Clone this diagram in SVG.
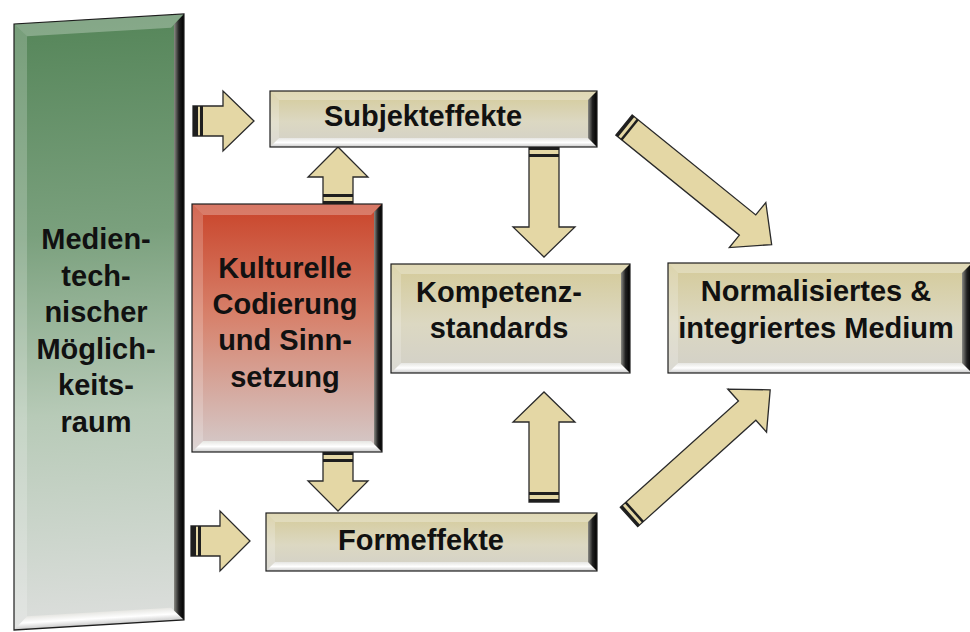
<svg xmlns="http://www.w3.org/2000/svg" width="970" height="632" viewBox="0 0 970 632">
<defs>
<style>
.frame{fill:none;stroke:#1e1e1e;stroke-width:1.2}
.bt{fill:#fff;opacity:.28}
.bl{fill:#fff;opacity:.2}
.bb{fill:url(#gBot)}
.br{fill:url(#gRight)}
.arrow{fill:#e4d7a5;stroke:#2a2a2a;stroke-width:1.3;stroke-linejoin:miter}
.band{fill:#1e1e1e}
text{font-family:"Liberation Sans",Arial,sans-serif;font-weight:bold;font-size:29px;fill:#111;text-anchor:middle}
</style>
<linearGradient id="gBeige" x1="0" y1="0" x2="0" y2="1">
<stop offset="0" stop-color="#d4ca98"/>
<stop offset="0.55" stop-color="#dcd8c2"/>
<stop offset="1" stop-color="#d2d0c8"/>
</linearGradient>
<linearGradient id="gGreen" x1="0" y1="0" x2="0" y2="1">
<stop offset="0" stop-color="#56865a"/>
<stop offset="0.35" stop-color="#7aa07d"/>
<stop offset="0.65" stop-color="#b7cab7"/>
<stop offset="1" stop-color="#dcdedc"/>
</linearGradient>
<linearGradient id="gRed" x1="0" y1="0" x2="0" y2="1">
<stop offset="0" stop-color="#c9442a"/>
<stop offset="0.45" stop-color="#d7816b"/>
<stop offset="1" stop-color="#d4cbcb"/>
</linearGradient>
<linearGradient id="gBot" x1="0" y1="0" x2="0" y2="1">
<stop offset="0" stop-color="#e6e6e2"/>
<stop offset="0.5" stop-color="#ffffff"/>
<stop offset="1" stop-color="#c8c8c8"/>
</linearGradient>
<linearGradient id="gRight" x1="0" y1="0" x2="1" y2="0">
<stop offset="0" stop-color="#8a8a84"/>
<stop offset="0.5" stop-color="#202020"/>
<stop offset="1" stop-color="#000"/>
</linearGradient>
</defs>

<g id="connectors">
<g id="a-medien-subjekt" transform="translate(193,121)">
<path class="arrow" d="M0,-15 H30 V-30 L61,0 L30,30 V15 H0 Z"/>
<rect class="band" x="0" y="-15" width="5" height="30"/><rect class="band" x="7" y="-15" width="3" height="30"/>
</g>
<g id="a-medien-form" transform="translate(191,541)">
<path class="arrow" d="M0,-15 H29 V-30 L59,0 L29,30 V15 H0 Z"/>
<rect class="band" x="0" y="-15" width="5" height="30"/><rect class="band" x="7" y="-15" width="3" height="30"/>
</g>
<g id="a-kultur-subjekt" transform="translate(338,204) rotate(-90)">
<path class="arrow" d="M0,-15 H27 V-30 L57,0 L27,30 V15 H0 Z"/>
<rect class="band" x="0" y="-15" width="3" height="30"/><rect class="band" x="7" y="-15" width="3" height="30"/>
</g>
<g id="a-kultur-form" transform="translate(338,452) rotate(90)">
<path class="arrow" d="M0,-15 H29 V-30 L59,0 L29,30 V15 H0 Z"/>
<rect class="band" x="0" y="-15" width="3" height="30"/><rect class="band" x="7" y="-15" width="3" height="30"/>
</g>
<g id="a-subjekt-kompetenz" transform="translate(544,147) rotate(90)">
<path class="arrow" d="M0,-15 H80 V-31 L110,0 L80,31 V15 H0 Z"/>
<rect class="band" x="0" y="-15" width="3" height="30"/><rect class="band" x="7" y="-15" width="3" height="30"/>
</g>
<g id="a-form-kompetenz" transform="translate(544,502) rotate(-90)">
<path class="arrow" d="M0,-15 H80 V-31 L110,0 L80,31 V15 H0 Z"/>
<rect class="band" x="0" y="-15" width="3" height="30"/><rect class="band" x="7" y="-15" width="3" height="30"/>
</g>
<g id="a-subjekt-medium" transform="translate(624,125) rotate(39)">
<path class="arrow" d="M0,-13 H159 V-29 L190,0 L159,29 V13 H0 Z"/>
<rect class="band" x="0" y="-13" width="3" height="26" fill="#444"/><rect class="band" x="6" y="-13" width="2.5" height="26"/>
</g>
<g id="a-form-medium" transform="translate(629,517) rotate(-42)">
<path class="arrow" d="M0,-13 H159 V-29 L190,0 L159,29 V13 H0 Z"/>
<rect class="band" x="0" y="-13" width="3" height="26"/><rect class="band" x="6" y="-13" width="2.5" height="26"/>
</g>
</g>

<g id="medien">
<g transform="translate(14,24) skewY(-3.4)">
<rect x="0" y="0" width="170" height="606" fill="url(#gGreen)"/>
<polygon class="bt" points="0,0 170,0 157,13 13,13"/>
<polygon class="bl" points="0,0 13,13 13,593 0,606"/>
<polygon class="bb" points="0,606 13,593 157,593 170,606"/>
<polygon class="br" points="170,0 170,606 160,596 160,10"/>
<rect class="frame" x="0" y="0" width="170" height="606"/>
</g>
<text x="96" y="249">Medien-</text>
<text x="96" y="286">tech-</text>
<text x="96" y="322">nischer</text>
<text x="96" y="359">Möglich-</text>
<text x="96" y="395">keits-</text>
<text x="96" y="432">raum</text>
</g>

<g id="kultur">
<rect x="192" y="204" width="190" height="248" fill="url(#gRed)"/>
<polygon class="bt" points="192,204 382,204 371,215 203,215"/>
<polygon class="bl" points="192,204 203,215 203,441 192,452"/>
<polygon class="bb" points="192,452 203,441 371,441 382,452"/>
<polygon class="br" points="382,204 382,452 374,444 374,212"/>
<rect class="frame" x="192" y="204" width="190" height="248"/>
<text x="285" y="278">Kulturelle</text>
<text x="285" y="314">Codierung</text>
<text x="285" y="350">und Sinn-</text>
<text x="285" y="387">setzung</text>
</g>

<g id="subjekt">
<rect x="270" y="91" width="327" height="56" fill="url(#gBeige)"/>
<polygon class="bt" points="270,91 597,91 588,100 279,100"/>
<polygon class="bl" points="270,91 279,100 279,138 270,147"/>
<polygon class="bb" points="270,147 279,138 588,138 597,147"/>
<polygon class="br" points="597,91 597,147 588,138 588,100"/>
<rect class="frame" x="270" y="91" width="327" height="56"/>
<text x="423" y="126">Subjekteffekte</text>
</g>

<g id="kompetenz">
<rect x="391" y="264" width="239" height="109" fill="url(#gBeige)"/>
<polygon class="bt" points="391,264 630,264 620,274 401,274"/>
<polygon class="bl" points="391,264 401,274 401,363 391,373"/>
<polygon class="bb" points="391,373 401,363 620,363 630,373"/>
<polygon class="br" points="630,264 630,373 621,364 621,273"/>
<rect class="frame" x="391" y="264" width="239" height="109"/>
<text x="499" y="302">Kompetenz-</text>
<text x="499" y="338">standards</text>
</g>

<g id="medium">
<rect x="668" y="263" width="304" height="110" fill="url(#gBeige)"/>
<polygon class="bt" points="668,263 972,263 962,273 678,273"/>
<polygon class="bl" points="668,263 678,273 678,363 668,373"/>
<polygon class="bb" points="668,373 678,363 962,363 972,373"/>
<polygon class="br" points="972,263 972,373 962,363 962,273"/>
<rect class="frame" x="668" y="263" width="304" height="110"/>
<text x="816" y="301">Normalisiertes &amp;</text>
<text x="816" y="338">integriertes Medium</text>
</g>

<g id="form">
<rect x="266" y="513" width="331" height="58" fill="url(#gBeige)"/>
<polygon class="bt" points="266,513 597,513 588,522 275,522"/>
<polygon class="bl" points="266,513 275,522 275,562 266,571"/>
<polygon class="bb" points="266,571 275,562 588,562 597,571"/>
<polygon class="br" points="597,513 597,571 588,562 588,522"/>
<rect class="frame" x="266" y="513" width="331" height="58"/>
<text x="421" y="550">Formeffekte</text>
</g>
</svg>
